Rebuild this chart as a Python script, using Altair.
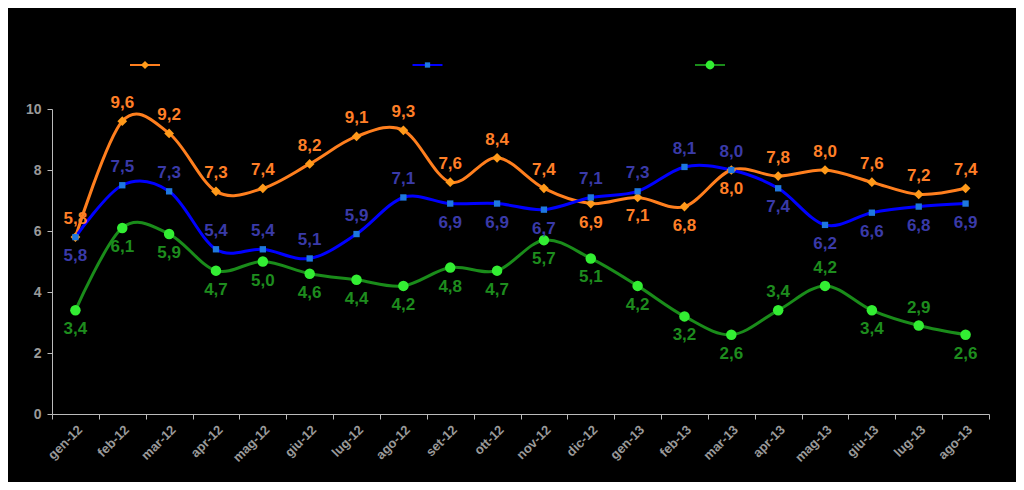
import altair as alt
import pandas as pd

months = ["gen-12", "feb-12", "mar-12", "apr-12", "mag-12", "giu-12", "lug-12", "ago-12",
          "set-12", "ott-12", "nov-12", "dic-12", "gen-13", "feb-13", "mar-13", "apr-13",
          "mag-13", "giu-13", "lug-13", "ago-13"]

series_names = ["Serie 1", "Serie 2", "Serie 3"]

orange = [5.8, 9.6, 9.2, 7.3, 7.4, 8.2, 9.1, 9.3, 7.6, 8.4, 7.4, 6.9, 7.1, 6.8, 8.0, 7.8, 8.0, 7.6, 7.2, 7.4]
blue = [5.8, 7.5, 7.3, 5.4, 5.4, 5.1, 5.9, 7.1, 6.9, 6.9, 6.7, 7.1, 7.3, 8.1, 8.0, 7.4, 6.2, 6.6, 6.8, 6.9]
green = [3.4, 6.1, 5.9, 4.7, 5.0, 4.6, 4.4, 4.2, 4.8, 4.7, 5.7, 5.1, 4.2, 3.2, 2.6, 3.4, 4.2, 3.4, 2.9, 2.6]

# label side: "a" above, "b" below
orange_side = list("aaaaaaaaaaabbbbaaaaa")
blue_side = list("baaaaaaabbbaaaabbbbb")
green_side = list("bbbbbbbbbbbbbbbaabab")

line_colors = ["#FF7F1E", "#0000FF", "#1A8C1A"]
marker_colors = ["#FF9A1A", "#1E78E0", "#33EE33"]
label_colors = ["#FF7F27", "#3A3AA8", "#1E8C1E"]
shapes = ["diamond", "square", "circle"]
marker_sizes = [95, 40, 110]

rows = []
for name, vals, sides in zip(series_names, [orange, blue, green], [orange_side, blue_side, green_side]):
    for m, v, s in zip(months, vals, sides):
        rows.append({"month": m, "series": name, "value": v, "side": s})
df = pd.DataFrame(rows)
legend_df = pd.DataFrame({"series": series_names})

x = alt.X("month:N", sort=months, title=None,
          scale=alt.Scale(paddingInner=0, paddingOuter=0),
          axis=alt.Axis(labelAngle=-45, labelColor="#9A9A9A", labelFont="Liberation Sans",
                        labelFontWeight="bold", labelFontSize=13, tickBand="extent",
                        domainColor="#BBBBBB", tickColor="#BBBBBB", tickSize=5, labelPadding=4))
y = alt.Y("value:Q", title=None,
          scale=alt.Scale(domain=[0, 10]),
          axis=alt.Axis(values=[0, 2, 4, 6, 8, 10], grid=False, labelColor="#9A9A9A",
                        labelFont="Liberation Sans", labelFontWeight="bold", labelFontSize=14,
                        domainColor="#BBBBBB", tickColor="#BBBBBB", tickSize=5, labelPadding=6))

line_color = alt.Color("series:N", scale=alt.Scale(domain=series_names, range=line_colors), legend=None)
mk_fill = alt.Fill("series:N", scale=alt.Scale(domain=series_names, range=marker_colors), legend=None)
mk_shape = alt.Shape("series:N", scale=alt.Scale(domain=series_names, range=shapes), legend=None)
txt_color = alt.Color("series:N", scale=alt.Scale(domain=series_names, range=label_colors), legend=None)

base = alt.Chart(df)

lines = base.mark_line(interpolate="cardinal", strokeWidth=3).encode(x=x, y=y, color=line_color)

point_layers = [
    base.transform_filter(alt.datum.series == name).mark_point(
        filled=True, opacity=1, size=sz).encode(x=x, y=y, fill=mk_fill, shape=mk_shape)
    for name, sz in zip(series_names, marker_sizes)
]

label_base = base.transform_calculate(
    lab="replace(format(datum.value, '.1f'), '.', ',')"
)

labels_above = label_base.transform_filter("datum.side == 'a'").mark_text(
    dy=-18, font="Liberation Sans", fontWeight="bold", fontSize=17
).encode(x=x, y=y, text="lab:N", color=txt_color)

labels_below = label_base.transform_filter("datum.side == 'b'").mark_text(
    dy=19, font="Liberation Sans", fontWeight="bold", fontSize=17
).encode(x=x, y=y, text="lab:N", color=txt_color)

main = alt.layer(lines, *point_layers, labels_above, labels_below).resolve_scale(color="independent")

# custom legend (line + marker, no visible text)
lx = alt.X("series:N", sort=series_names, axis=None,
           scale=alt.Scale(type="point", domain=series_names, range=[93, 658], padding=0))
lbase = alt.Chart(legend_df)
leg_lines = lbase.mark_tick(orient="horizontal", size=30, thickness=2).encode(
    x=lx, y=alt.value(-44), color=line_color, opacity=alt.value(1))
leg_pts = [
    lbase.transform_filter(alt.datum.series == name).mark_point(
        filled=True, opacity=1, size=sz * 0.7).encode(
        x=lx, y=alt.value(-44), fill=mk_fill, shape=mk_shape)
    for name, sz in zip(series_names, marker_sizes)
]
legend = alt.layer(leg_lines, *leg_pts)

chart = alt.layer(main, legend).resolve_scale(
    x="independent", color="independent", fill="independent", shape="independent"
).properties(
    width=937, height=305,
    background="black",
    padding={"left": 44, "top": 101, "right": 27, "bottom": 68},
    autosize=alt.AutoSizeParams(type="none"),
).configure_view(stroke=None)

chart.save("out.html", embed_options={"renderer": "svg", "actions": False})
